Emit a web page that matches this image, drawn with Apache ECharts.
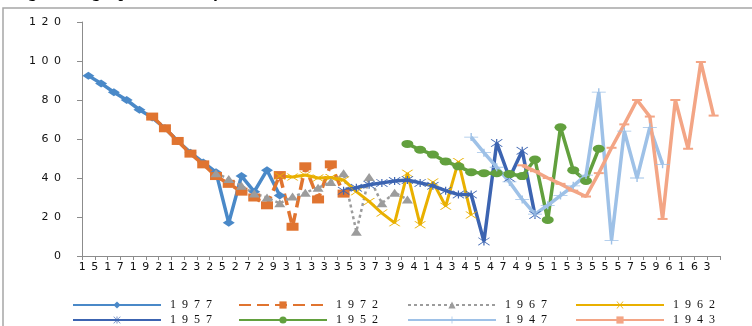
<!DOCTYPE html>
<html>
<head>
<meta charset="utf-8">
<script src="https://cdn.jsdelivr.net/npm/echarts@6/dist/echarts.min.js"></script>
<style>
  html, body { margin: 0; padding: 0; background: #fff; }
  #chart { width: 752px; height: 326px; }
</style>
</head>
<body>
<div id="chart"></div>
<script>
// ages 15..64 on the x axis
var ages = [];
for (var a = 15; a <= 64; a++) ages.push(String(a));

var yTicks = [0, 20, 40, 60, 80, 100, 120];

var start1977 = 15, s1977 = [92.5, 88.5, 84, 80, 75, 71, 65.5, 59, 53, 48, 43, 17, 41, 33, 44, 31];
var start1972 = 20, s1972 = [71.5, 65.5, 59, 52.5, 47, 41, 37, 33, 30, 26, 41.5, 15, 46, 29, 47, 32];
var start1967 = 25, s1967 = [42.5, 39.5, 36, 32, 30, 27, 30.5, 32.5, 35, 38, 42.5, 12.5, 40.5, 27, 32.5, 29];
var start1962 = 30, s1962 = [41, 40.5, 41.5, 40, 40.3, 39, 33, 28, 22, 17, 42.5, 16, 38, 25.5, 48.5, 21];
var start1957 = 35, s1957 = [33.5, 35, 36.5, 37.5, 38.5, 39, 37.5, 36, 33.5, 31.5, 31.5, 7.5, 58, 40, 54, 21];
var start1952 = 40, s1952 = [57.5, 54.5, 52, 48.5, 46, 43, 42.5, 42.5, 42, 41, 49.5, 18.5, 66, 44, 38.5, 55];
var start1947 = 45, s1947 = [61, 53, 45.5, 38, 29, 21.5, 26, 31, 36, 41.5, 84, 8, 64, 40, 66, 47];
var start1943 = 49, s1943 = [46.5, 43.5, 40, 37, 33.5, 30.5, 42.5, 55.5, 67.5, 80, 71.5, 19, 80, 55, 99.5, 72];

function pad(startAge, vals) {
    var out = [];
    for (var i = 0; i < ages.length; i++) {
        var k = (15 + i) - startAge;
        out.push(k >= 0 && k < vals.length ? vals[k] : null);
    }
    return out;
}

// stretched-looking text: wide gaps between the digits
function spaced(v) {
    return String(v).split('').join('\u2002');
}
function spaced2(v) {
    return String(v).split('').join('  ');
}

var xMark = 'path://M0,0 L1.2,0 L5,4.2 L8.8,0 L10,0 L5.6,4.8 L10,9.6 L8.8,9.6 L5,5.4 L1.2,9.6 L0,9.6 L4.4,4.8 Z';
var starMark = 'path://M0.6,0 L10,9.2 L9.4,9.8 L0,0.6 Z M9.4,0 L10,0.6 L0.6,9.8 L0,9.2 Z M4.5,0 L5.5,0 L5.5,9.8 L4.5,9.8 Z';
var plusMark = 'path://M0,4.4 L10,4.4 L10,5.4 L0,5.4 Z M4.5,0 L5.5,0 L5.5,9.8 L4.5,9.8 Z';
var dashMark = 'path://M0,0 L10,0 L10,2 L0,2 Z';

function line(name, startAge, vals, color, symbol, size, lineType, width) {
    return {
        name: name,
        type: 'line',
        data: pad(startAge, vals),
        color: color,
        symbol: symbol,
        symbolSize: size,
        showSymbol: true,
        lineStyle: { width: width || 3.5, type: lineType || 'solid', color: color },
        itemStyle: { color: color },
        connectNulls: false
    };
}

var legendFont = { fontFamily: 'Liberation Serif', fontSize: 12, color: '#111', padding: [0, 0, 0, 4] };
function leg(name, left, top) {
    return {
        data: [name],
        left: left,
        top: top,
        padding: 0,
        itemWidth: 88,
        itemHeight: 9,
        selectedMode: false,
        textStyle: legendFont,
        formatter: spaced2
    };
}

var myChart = echarts.init(document.getElementById('chart'));
var option = {
    animation: false,
    backgroundColor: '#fff',
    graphic: [
        {
            type: 'rect',
            shape: { x: 3, y: 8, width: 800, height: 400 },
            style: { fill: 'none', stroke: '#a6a6a6', lineWidth: 1.5 },
            silent: true
        },
        {
            type: 'text',
            left: 14,
            top: -15,
            style: { text: 'Figure 3: Age-specific rates by cohort', font: 'bold 16px "Liberation Serif"', fill: '#000' },
            silent: true
        }
    ],
    grid: { left: 82, right: 32, top: 22, bottom: 70 },
    legend: [
        leg('1977', 72, 299), leg('1972', 238, 299), leg('1967', 407, 299), leg('1962', 575, 299),
        leg('1957', 72, 314), leg('1952', 238, 314), leg('1947', 407, 314), leg('1943', 575, 314)
    ],
    xAxis: {
        type: 'category',
        data: ages,
        boundaryGap: true,
        axisLine: { lineStyle: { color: '#8c8c8c', width: 1 } },
        axisTick: { show: true, interval: 0, length: 4, lineStyle: { color: '#8c8c8c' } },
        axisLabel: {
            interval: 1,
            margin: 6,
            fontFamily: 'DejaVu Sans',
            fontSize: 11,
            color: '#111',
            formatter: spaced
        },
        splitLine: { show: false }
    },
    yAxis: {
        type: 'value',
        min: yTicks[0],
        max: yTicks[yTicks.length - 1],
        interval: 20,
        axisLine: { show: true, lineStyle: { color: '#8c8c8c', width: 1 } },
        axisTick: { show: true, length: 5, lineStyle: { color: '#8c8c8c' } },
        axisLabel: {
            margin: 21,
            fontFamily: 'DejaVu Sans',
            fontSize: 11,
            color: '#111',
            formatter: spaced
        },
        splitLine: { show: false }
    },
    series: [
        line('1977', start1977, s1977, '#4a89c8', 'diamond', [12, 8]),
        line('1972', start1972, s1972, '#e07430', 'rect', [12, 8], [12, 6]),
        line('1967', start1967, s1967, '#9c9c9c', 'triangle', [11, 8], [3, 3], 2.5),
        line('1962', start1962, s1962, '#e9b000', xMark, [12, 7], 'solid', 3),
        line('1957', start1957, s1957, '#3c64b1', starMark, [12, 8]),
        line('1952', start1952, s1952, '#62a03e', 'circle', [12, 8]),
        line('1947', start1947, s1947, '#9ec1e7', plusMark, [14, 8]),
        line('1943', start1943, s1943, '#f3a585', dashMark, [10, 2])
    ]
};
myChart.setOption(option);
</script>
</body>
</html>
